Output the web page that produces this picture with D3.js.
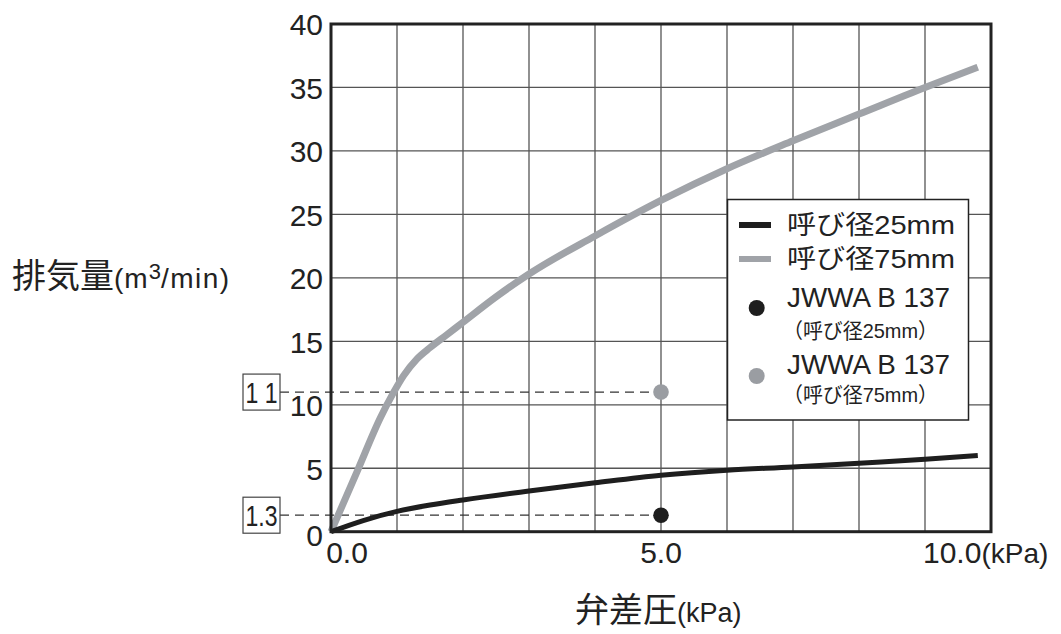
<!DOCTYPE html>
<html><head><meta charset="utf-8">
<script src="https://cdn.jsdelivr.net/npm/d3@7"></script>
<style>
body{margin:0;background:#fff}
svg{display:block}
text{font-family:"Liberation Sans","Noto Sans CJK JP",sans-serif;fill:#222}
</style>
</head><body>
<svg id="c" width="1061" height="634"></svg>
<script>
// ---- data ----
const pressure25 = [0, 0.5, 1.0, 1.5, 2, 3, 4, 5, 6, 7, 8, 9, 9.8];
const flow25     = [0, 0.9, 1.6, 2.1, 2.5, 3.2, 3.85, 4.45, 4.85, 5.1, 5.4, 5.7, 6.0];
const pressure75 = [0, 0.4, 0.75, 0.94, 1.1, 1.3, 1.5, 1.75, 2.0, 2.5, 3, 4, 5, 6, 7, 8, 9, 9.8];
const flow75     = [0, 4.8, 9.0, 10.9, 12.3, 13.6, 14.5, 15.5, 16.5, 18.5, 20.3, 23.3, 26.1, 28.6, 30.8, 32.9, 35.0, 36.6];
const jwwaPressure = [5.0, 5.0];
const jwwaFlow     = [1.3, 11];
const jwwaTags     = ["1.3", "1 1"];
const yTickValues  = [0, 5, 10, 15, 20, 25, 30, 35, 40];
const xGridValues  = [0, 1, 2, 3, 4, 5, 6, 7, 8, 9, 10];
const xTickValues  = [0, 5, 10];
const xTickLabels  = ["0.0", "5.0", "10.0"];
const legendLabels = ["呼び径25mm", "呼び径75mm", "JWWA B 137", "JWWA B 137"];
const legendSubLabels = ["", "", "（呼び径25mm）", "（呼び径75mm）"];

// ---- styles ----
const C_DARK = "#1e1e1e", C_GRAY = "#a0a3a8", C_GRID = "#555";

const svg = d3.select("#c");
const x = d3.scaleLinear().domain([0, 10]).range([331, 991]);
const y = d3.scaleLinear().domain([0, 40]).range([531.7, 24]);

// grid
svg.append("g").selectAll("line").data(xGridValues).join("line")
  .attr("x1", d => x(d)).attr("x2", d => x(d)).attr("y1", y(0)).attr("y2", y(40))
  .attr("stroke", C_GRID).attr("stroke-width", 1.3);
svg.append("g").selectAll("line").data(yTickValues).join("line")
  .attr("x1", x(0)).attr("x2", x(10)).attr("y1", d => y(d)).attr("y2", d => y(d))
  .attr("stroke", C_GRID).attr("stroke-width", 1.3);

// dashed reference lines + tag boxes
jwwaFlow.forEach((v, i) => {
  const yy = y(v);
  svg.append("line").attr("x1", 280).attr("x2", x(jwwaPressure[i])).attr("y1", yy).attr("y2", yy)
    .attr("stroke", "#333").attr("stroke-width", 1.2).attr("stroke-dasharray", "9,6");
  svg.append("rect").attr("x", 243).attr("y", yy - 18).attr("width", 37).attr("height", 36)
    .attr("fill", "#fff").attr("stroke", "#444").attr("stroke-width", 1.2);
  svg.append("text").attr("x", 261.5).attr("y", yy).attr("dy", "0.36em")
    .attr("text-anchor", "middle").attr("font-size", 30)
    .attr("textLength", 32).attr("lengthAdjust", "spacingAndGlyphs")
    .text(jwwaTags[i]);
});

// curves
const line = d3.line().x(d => x(d[0])).y(d => y(d[1])).curve(d3.curveMonotoneX);
svg.append("path").attr("d", line(d3.zip(pressure75, flow75)))
  .attr("fill", "none").attr("stroke", C_GRAY).attr("stroke-width", 7);
svg.append("path").attr("d", line(d3.zip(pressure25, flow25)))
  .attr("fill", "none").attr("stroke", C_DARK).attr("stroke-width", 5);

// points
svg.append("g").selectAll("circle").data(d3.zip(jwwaPressure, jwwaFlow)).join("circle")
  .attr("cx", d => x(d[0])).attr("cy", d => y(d[1])).attr("r", 7.8)
  .attr("fill", (d, i) => i === 0 ? C_DARK : "#9a9da2");

// frame
svg.append("rect").attr("x", x(0)).attr("y", y(40)).attr("width", x(10) - x(0)).attr("height", y(0) - y(40))
  .attr("fill", "none").attr("stroke", "#222").attr("stroke-width", 3);

// y tick labels
const yAxis = svg.append("g").attr("transform", `translate(${x(0) - 8},0)`)
  .call(d3.axisLeft(y).tickValues(yTickValues).tickSize(0).tickPadding(0));
yAxis.select(".domain").remove();
yAxis.selectAll("text").attr("font-size", 30).attr("fill", "#222")
  .style("font-family", '"Liberation Sans",sans-serif')
  .attr("dy", d => d === 0 ? "0.45em" : "0.36em");

// x tick labels
svg.append("g").selectAll("text").data(xTickValues).join("text")
  .attr("x", (d, i) => i === 0 ? x(d) + 16 : (i === 2 ? x(d) - 68 : x(d)))
  .attr("y", 563)
  .attr("text-anchor", (d, i) => i === 2 ? "start" : "middle")
  .attr("font-size", 30)
  .each(function(d, i) {
    const t = d3.select(this);
    t.append("tspan").text(xTickLabels[i]);
    if (i === 2) t.append("tspan").attr("font-size", 28).text("(kPa)");
  });

// axis titles
const yt = svg.append("text").attr("x", 12).attr("y", 288);
yt.append("tspan").attr("font-size", 34).text("排気量");
yt.append("tspan").attr("font-size", 28).attr("letter-spacing", 1).text("(m");
yt.append("tspan").attr("font-size", 22).attr("dy", -9).text("3");
yt.append("tspan").attr("font-size", 28).attr("letter-spacing", 1.5).attr("dy", 9).text("/min)");

const xt = svg.append("text").attr("x", 575).attr("y", 622);
xt.append("tspan").attr("font-size", 34).text("弁差圧");
xt.append("tspan").attr("font-size", 27).text("(kPa)");

// legend
const lg = svg.append("g");
lg.append("rect").attr("x", 727.5).attr("y", 199.5).attr("width", 241).attr("height", 220.5)
  .attr("fill", "#fff").attr("stroke", "#222").attr("stroke-width", 1.5);
const rowsY = [225, 259, 297, 364];
const subY = [0, 0, 330, 394];
lg.append("line").attr("x1", 739).attr("x2", 771).attr("y1", rowsY[0]).attr("y2", rowsY[0])
  .attr("stroke", C_DARK).attr("stroke-width", 6);
lg.append("line").attr("x1", 739).attr("x2", 771).attr("y1", rowsY[1]).attr("y2", rowsY[1])
  .attr("stroke", C_GRAY).attr("stroke-width", 6);
lg.append("circle").attr("cx", 756.7).attr("cy", 308).attr("r", 8).attr("fill", C_DARK);
lg.append("circle").attr("cx", 756.7).attr("cy", 376).attr("r", 8).attr("fill", "#9a9da2");
legendLabels.forEach((t, i) => {
  lg.append("text").attr("x", 787).attr("y", rowsY[i]).attr("dy", "0.36em")
    .attr("font-size", i < 2 ? 26 : 28)
    .attr("textLength", i < 2 ? 168 : 163).attr("lengthAdjust", "spacingAndGlyphs")
    .text(t);
  if (legendSubLabels[i]) {
    lg.append("text").attr("x", 783).attr("y", subY[i]).attr("dy", "0.36em")
      .attr("font-size", 21).attr("textLength", 155).attr("lengthAdjust", "spacingAndGlyphs")
      .text(legendSubLabels[i]);
  }
});
</script>
</body></html>
